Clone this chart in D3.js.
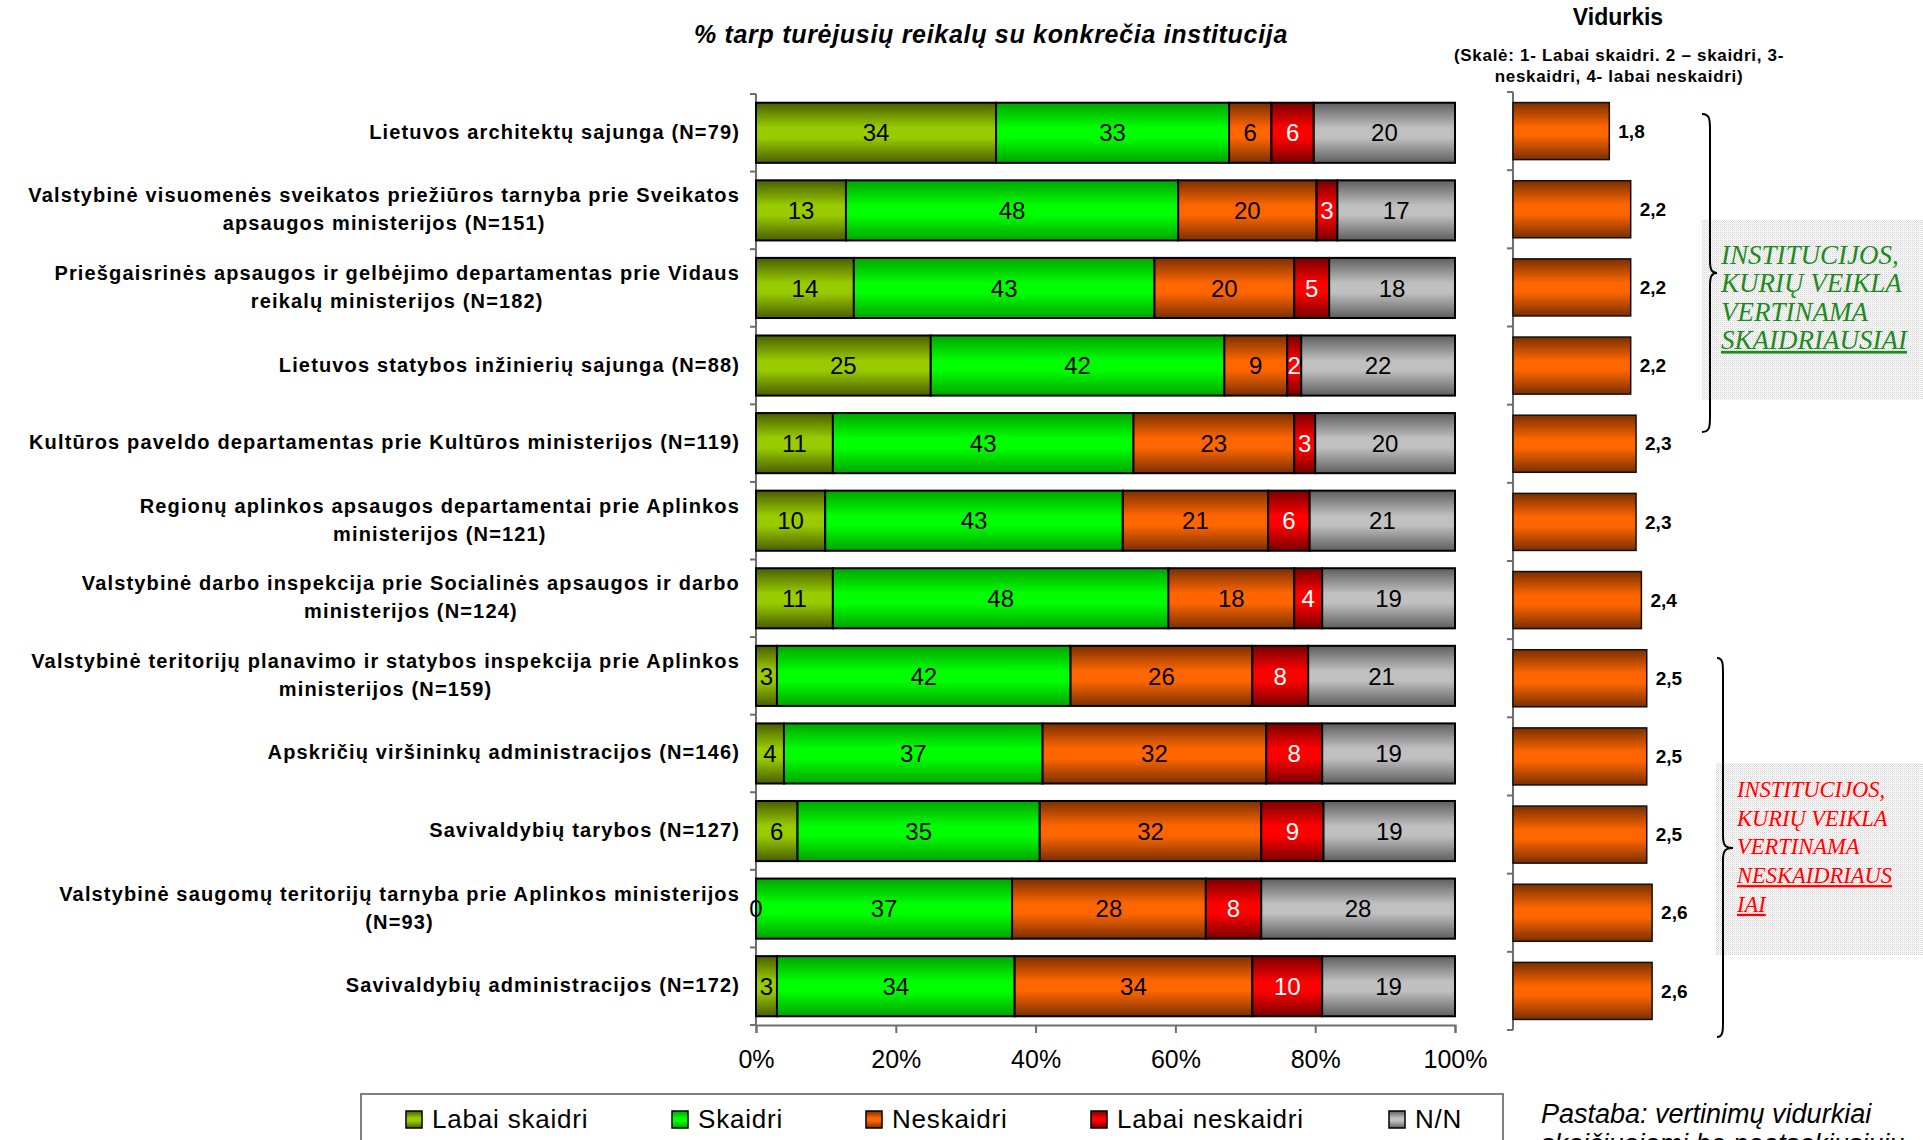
<!DOCTYPE html>
<html><head><meta charset="utf-8">
<script src="https://cdn.jsdelivr.net/npm/d3@7"></script>
<style>body{margin:0;background:#fff}svg{display:block}</style>
</head><body>
<svg id="c" width="1923" height="1140"></svg>
<script>
// ---------- DATA ----------
const categories = [
  "Lietuvos architektų sajunga (N=79)",
  "Valstybinė visuomenės sveikatos priežiūros tarnyba prie Sveikatos|apsaugos ministerijos (N=151)",
  "Priešgaisrinės apsaugos ir gelbėjimo departamentas prie Vidaus|reikalų ministerijos (N=182)",
  "Lietuvos statybos inžinierių sajunga (N=88)",
  "Kultūros paveldo departamentas prie Kultūros ministerijos (N=119)",
  "Regionų aplinkos apsaugos departamentai prie Aplinkos|ministerijos (N=121)",
  "Valstybinė darbo inspekcija prie Socialinės apsaugos ir darbo|ministerijos (N=124)",
  "Valstybinė teritorijų planavimo ir statybos inspekcija prie Aplinkos|ministerijos (N=159)",
  "Apskričių viršininkų administracijos (N=146)",
  "Savivaldybių tarybos (N=127)",
  "Valstybinė saugomų teritorijų tarnyba prie Aplinkos ministerijos|(N=93)",
  "Savivaldybių administracijos (N=172)"
];
const seriesNames = ["Labai skaidri", "Skaidri", "Neskaidri", "Labai neskaidri", "N/N"];
const labaiSkaidri   = [34, 13, 14, 25, 11, 10, 11,  3,  4,  6,  0,  3];
const skaidri        = [33, 48, 43, 42, 43, 43, 48, 42, 37, 35, 37, 34];
const neskaidri      = [ 6, 20, 20,  9, 23, 21, 18, 26, 32, 32, 28, 34];
const labaiNeskaidri = [ 6,  3,  5,  2,  3,  6,  4,  8,  8,  9,  8, 10];
const nn             = [20, 17, 18, 22, 20, 21, 19, 21, 19, 19, 28, 19];
const vidurkis = [1.8, 2.2, 2.2, 2.2, 2.3, 2.3, 2.4, 2.5, 2.5, 2.5, 2.6, 2.6];
const xTickValues = [0, 0.2, 0.4, 0.6, 0.8, 1];
const titleText = "% tarp turėjusių reikalų su konkrečia institucija";
const vidTitle = "Vidurkis";
const vidSub = ["(Skalė: 1- Labai skaidri. 2 – skaidri, 3-", "neskaidri, 4- labai neskaidri)"];
const greenNote = ["INSTITUCIJOS,", "KURIŲ VEIKLA", "VERTINAMA", "SKAIDRIAUSIAI"];
const redNote = ["INSTITUCIJOS,", "KURIŲ VEIKLA", "VERTINAMA", "NESKAIDRIAUS", "IAI"];
const noteText = ["Pastaba: vertinimų vidurkiai", "skaičiuojami be neatsakiusiųjų"];

// ---------- SETUP ----------
const svg = d3.select("#c");
const FONT = "'Liberation Sans', Arial, sans-serif";
const SERIF = "'Liberation Serif', 'Times New Roman', serif";
const seriesArrays = [labaiSkaidri, skaidri, neskaidri, labaiNeskaidri, nn];
const gradColors = [
  ["#4a5e00", "#99cc00"],
  ["#00a400", "#00ff00"],
  ["#7a2f00", "#ff6600"],
  ["#780000", "#ff0000"],
  ["#5e5e5e", "#c0c0c0"]
];
const defs = svg.append("defs");
gradColors.forEach((c, i) => {
  const g = defs.append("linearGradient").attr("id", "g" + i)
    .attr("x1", 0).attr("y1", 0).attr("x2", 0).attr("y2", 1);
  [[0, c[0]], [0.42, c[1]], [0.58, c[1]], [1, c[0]]].forEach(s =>
    g.append("stop").attr("offset", s[0]).attr("stop-color", s[1]));
});
const pat = defs.append("pattern").attr("id", "dots").attr("width", 2).attr("height", 2)
  .attr("patternUnits", "userSpaceOnUse");
pat.append("rect").attr("width", 2).attr("height", 2).attr("fill", "#ffffff");
pat.append("rect").attr("width", 1).attr("height", 1).attr("fill", "#d4d4d4");
pat.append("rect").attr("x", 1).attr("y", 1).attr("width", 1).attr("height", 1).attr("fill", "#e6e6e6");

// rows for stack
const rows = categories.map((c, i) => {
  const r = { cat: c };
  seriesNames.forEach((s, j) => r[s] = seriesArrays[j][i]);
  return r;
});
const stacked = d3.stack().keys(seriesNames).offset(d3.stackOffsetExpand)(rows);

// ---------- SCALES ----------
const x = d3.scaleLinear().domain([0, 1]).range([756, 1455]);
const y = d3.scaleBand().domain(categories).range([94, 1025]).paddingInner(0.225).paddingOuter(0.1125);
const xv = d3.scaleLinear().domain([0, 4]).range([1513, 1513 + 214]);
const yv = d3.scaleBand().domain(categories).range([92, 1030]).paddingInner(0.27).paddingOuter(0.135);

// ---------- TITLE ----------
svg.append("text").attr("x", 991).attr("y", 43).attr("text-anchor", "middle")
  .attr("font-family", FONT).attr("font-size", 25).attr("font-weight", "bold")
  .attr("font-style", "italic").attr("letter-spacing", 0.7).text(titleText);

// ---------- LEFT AXIS ----------
const axisCol = "#6e6e6e";
const stepL = y.step(), offL = (y.step() - y.bandwidth()) / 2;
const bounds = categories.map(c => y(c) - offL).concat([y(categories[categories.length - 1]) - offL + stepL]);
svg.append("line").attr("x1", 756).attr("x2", 756).attr("y1", bounds[0]).attr("y2", bounds[bounds.length - 1])
  .attr("stroke", axisCol).attr("stroke-width", 2);
svg.selectAll(".ltick").data(bounds).join("line")
  .attr("x1", 750).attr("x2", 756).attr("y1", d => d).attr("y2", d => d)
  .attr("stroke", axisCol).attr("stroke-width", 2);

// bottom axis
const xAxis = d3.axisBottom(x).tickValues(xTickValues).tickFormat(d3.format(".0%"))
  .tickSize(8).tickPadding(17);
const gx = svg.append("g").attr("transform", "translate(0," + bounds[bounds.length - 1] + ")").call(xAxis);
gx.select(".domain").attr("stroke", axisCol).attr("stroke-width", 2);
gx.selectAll(".tick line").attr("stroke", axisCol).attr("stroke-width", 2);
gx.selectAll(".tick text").attr("font-family", FONT).attr("font-size", 25).attr("fill", "#000");

// ---------- BARS ----------
const layers = svg.append("g").selectAll("g").data(stacked).join("g")
  .attr("fill", (d, i) => "url(#g" + i + ")");
layers.selectAll("rect").data(d => d).join("rect")
  .attr("x", d => x(d[0])).attr("width", d => x(d[1]) - x(d[0]))
  .attr("y", d => y(d.data.cat)).attr("height", y.bandwidth())
  .attr("stroke", "#000").attr("stroke-width", 2);

const labG = svg.append("g");
stacked.forEach((layer, i) => {
  labG.selectAll(".l" + i).data(layer).join("text")
    .attr("x", d => (x(d[0]) + x(d[1])) / 2)
    .attr("y", d => y(d.data.cat) + y.bandwidth() / 2)
    .attr("dy", "0.36em").attr("text-anchor", "middle")
    .attr("font-family", FONT).attr("font-size", 24)
    .attr("fill", i === 3 ? "#fff" : "#000")
    .text(d => d.data[seriesNames[i]]);
});

// ---------- CATEGORY LABELS ----------
const labRight = 740;
categories.forEach(c => {
  const lines = c.split("|");
  const cy = y(c) + y.bandwidth() / 2;
  const t = svg.append("text").attr("font-family", FONT).attr("font-size", 20)
    .attr("font-weight", "bold").attr("letter-spacing", 1.15).attr("fill", "#000");
  if (lines.length === 1) {
    t.attr("x", labRight).attr("y", cy).attr("dy", "0.3em").attr("text-anchor", "end").text(lines[0]);
  } else {
    const spans = lines.map((l, k) => t.append("tspan").attr("y", cy + (k === 0 ? -8 : 20)).text(l));
    const widths = spans.map(s => s.node().getComputedTextLength());
    const w = Math.max(...widths);
    const cx = labRight - w / 2;
    t.attr("text-anchor", "middle");
    spans.forEach(s => s.attr("x", cx));
  }
});

// ---------- VIDURKIS PANEL ----------
svg.append("text").attr("x", 1618).attr("y", 25).attr("text-anchor", "middle")
  .attr("font-family", FONT).attr("font-size", 23).attr("font-weight", "bold").text(vidTitle);
vidSub.forEach((s, k) => svg.append("text").attr("x", 1619).attr("y", 61 + k * 21)
  .attr("text-anchor", "middle").attr("font-family", FONT).attr("font-size", 17)
  .attr("font-weight", "bold").attr("letter-spacing", 0.7).text(s));

const stepR = yv.step(), offR = (yv.step() - yv.bandwidth()) / 2;
const boundsR = categories.map(c => yv(c) - offR).concat([yv(categories[categories.length - 1]) - offR + stepR]);
svg.append("line").attr("x1", 1513).attr("x2", 1513).attr("y1", boundsR[0]).attr("y2", boundsR[boundsR.length - 1])
  .attr("stroke", axisCol).attr("stroke-width", 2);
svg.selectAll(".rtick").data(boundsR).join("line")
  .attr("x1", 1507).attr("x2", 1513).attr("y1", d => d).attr("y2", d => d)
  .attr("stroke", axisCol).attr("stroke-width", 2);

svg.append("g").selectAll("rect").data(vidurkis).join("rect")
  .attr("x", xv(0)).attr("width", d => xv(d) - xv(0))
  .attr("y", (d, i) => yv(categories[i])).attr("height", yv.bandwidth())
  .attr("fill", "url(#g2)").attr("stroke", "#111").attr("stroke-width", 1.5);
svg.append("g").selectAll("text").data(vidurkis).join("text")
  .attr("x", d => xv(d) + 9).attr("y", (d, i) => yv(categories[i]) + yv.bandwidth() / 2)
  .attr("dy", "0.35em").attr("font-family", FONT).attr("font-size", 19).attr("font-weight", "bold")
  .text(d => d3.format(".1f")(d).replace(".", ","));

// ---------- BRACES & NOTES ----------
function brace(x0, xm, tip, yTop, yMid, yBot) {
  return `M${x0},${yTop} C${xm},${yTop} ${xm},${yTop + 6} ${xm},${yTop + 16}
    L${xm},${yMid - 12} C${xm},${yMid - 3} ${xm + 2},${yMid} ${tip},${yMid}
    C${xm + 2},${yMid} ${xm},${yMid + 3} ${xm},${yMid + 12}
    L${xm},${yBot - 16} C${xm},${yBot - 6} ${xm},${yBot} ${x0},${yBot}`;
}
// green box
svg.append("rect").attr("x", 1702).attr("y", 220).attr("width", 221).attr("height", 180).attr("fill", "url(#dots)");
svg.append("path").attr("d", brace(1702, 1710, 1717, 114, 273, 432)).attr("fill", "none")
  .attr("stroke", "#000").attr("stroke-width", 2);
greenNote.forEach((s, k) => svg.append("text").attr("x", 1721).attr("y", 264 + k * 28.3)
  .attr("font-family", SERIF).attr("font-style", "italic").attr("font-size", 27)
  .attr("fill", "#1e8a1e").style("text-decoration", k === 3 ? "underline" : "none").text(s));
// red box
svg.append("rect").attr("x", 1716).attr("y", 763).attr("width", 207).attr("height", 192).attr("fill", "url(#dots)");
svg.append("path").attr("d", brace(1717, 1723, 1733, 658, 848, 1037)).attr("fill", "none")
  .attr("stroke", "#000").attr("stroke-width", 2);
redNote.forEach((s, k) => svg.append("text").attr("x", 1737).attr("y", 797 + k * 28.7)
  .attr("font-family", SERIF).attr("font-style", "italic").attr("font-size", 22.5)
  .attr("fill", "#ff0000").style("text-decoration", k >= 3 ? "underline" : "none").text(s));

// ---------- LEGEND ----------
svg.append("rect").attr("x", 361).attr("y", 1094).attr("width", 1142).attr("height", 100)
  .attr("fill", "#fff").attr("stroke", "#808080").attr("stroke-width", 2);
const legX = [406, 672, 866, 1091, 1389];
seriesNames.forEach((s, i) => {
  svg.append("rect").attr("x", legX[i]).attr("y", 1111).attr("width", 16).attr("height", 17)
    .attr("fill", "url(#g" + i + ")").attr("stroke", "#000").attr("stroke-width", 1.5);
  svg.append("text").attr("x", legX[i] + 26).attr("y", 1128).attr("font-family", FONT)
    .attr("font-size", 26).attr("letter-spacing", 0.8).text(s);
});

// ---------- NOTE ----------
noteText.forEach((s, k) => svg.append("text").attr("x", 1541).attr("y", 1123 + k * 30)
  .attr("font-family", FONT).attr("font-style", "italic").attr("font-size", 27).text(s));
</script>
</body></html>
